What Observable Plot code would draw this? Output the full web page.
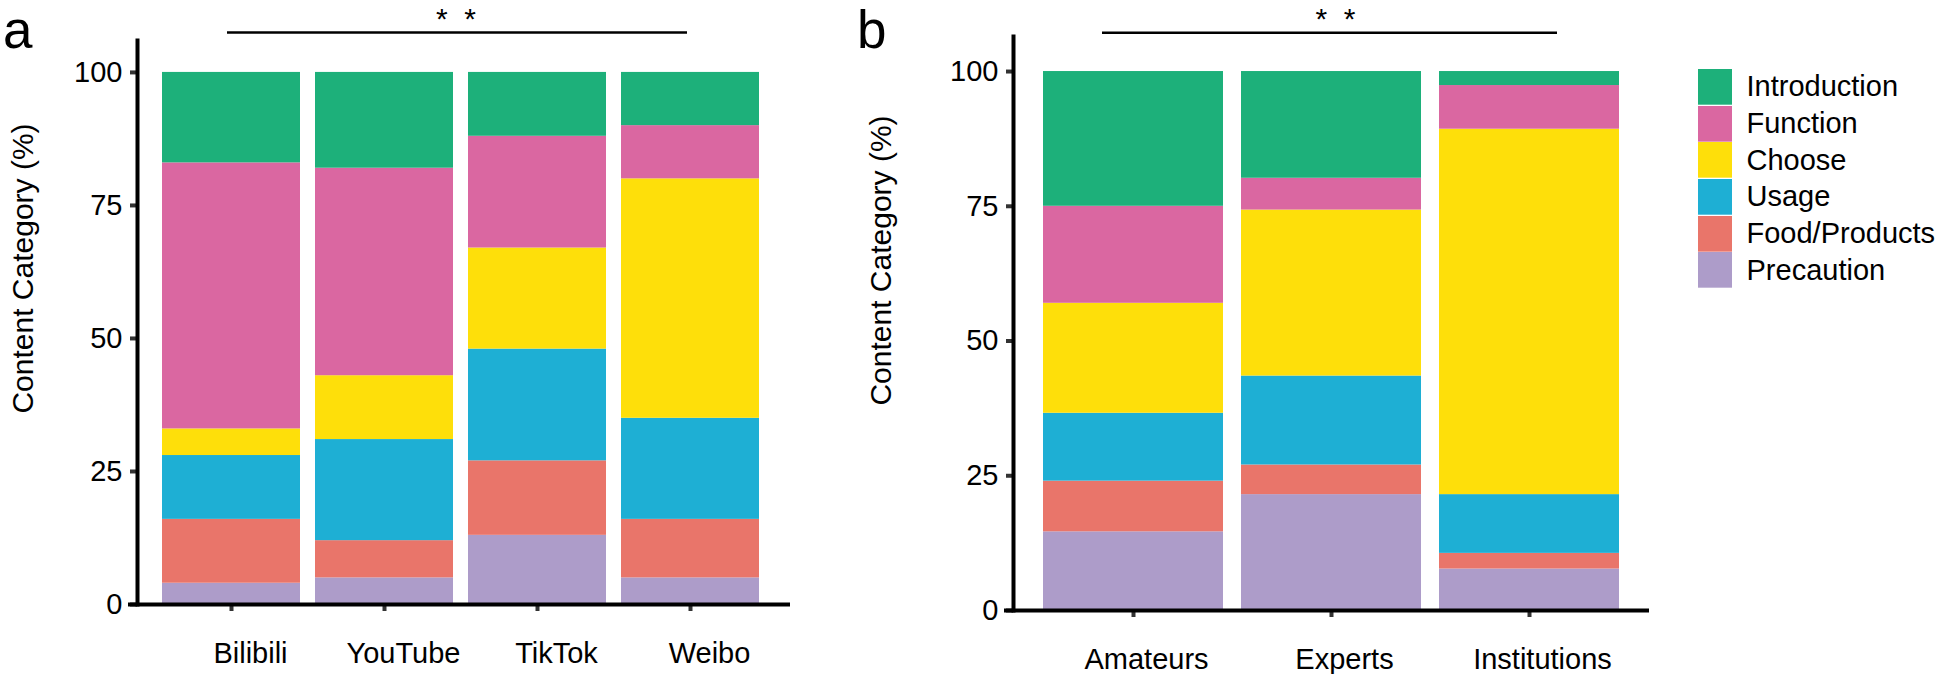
<!DOCTYPE html>
<html><head><meta charset="utf-8">
<script src="https://cdn.jsdelivr.net/npm/d3@7"></script>
<script src="https://cdn.jsdelivr.net/npm/@observablehq/plot@0.6"></script>
<style>
body{margin:0;background:#fff;}
#wrap{position:relative;width:1944px;height:674px;font-family:"Liberation Sans",Arial,sans-serif;overflow:hidden;}
.panel{position:absolute;top:0;}
.tag{position:absolute;top:3px;font-size:53px;line-height:1;color:#000;}
</style></head><body><div id="wrap">
<div id="pa" class="panel" style="left:0px"></div>
<div id="pb" class="panel" style="left:860px"></div>
<div id="legend" style="position:absolute;left:1698px;top:69px;width:246px"></div>
<div class="tag" style="left:3px">a</div>
<div class="tag" style="left:857px">b</div>
</div>
<script>
// ---- categories / labels ----
const platforms = ["Bilibili", "YouTube", "TikTok", "Weibo"];
const creators = ["Amateurs", "Experts", "Institutions"];
const contentTypes = ["Introduction", "Function", "Choose", "Usage", "Food/Products", "Precaution"];
const contentColors = ["#1DB07A", "#DA67A1", "#FEDF0A", "#1EAFD4", "#E9756A", "#AD9CC9"];
const yTicks = [0, 25, 50, 75, 100];
const yTitle = "Content Category (%)";
const signifText = "*\u00a0\u00a0*";

// ---- panel a: share (%) by platform ----
const introA      = [17, 18, 12, 10];
const functionA   = [50, 39, 21, 10];
const chooseA     = [5, 12, 19, 45];
const usageA      = [12, 19, 21, 19];
const foodA       = [12, 7, 14, 11];
const precautionA = [4, 5, 13, 5];

// ---- panel b: share (%) by creator ----
const introB      = [25, 19.8, 2.6];
const functionB   = [18, 5.9, 8.1];
const chooseB     = [20.4, 30.8, 67.8];
const usageB      = [12.6, 16.5, 10.9];
const foodB       = [9.4, 5.5, 2.9];
const precautionB = [14.6, 21.5, 7.7];

function rows(cats, series) {
  const out = [];
  cats.forEach((c, i) => series.forEach(([t, vals]) => out.push({cat: c, type: t, value: vals[i]})));
  return out;
}
// stacking order: bottom -> top
const dataA = rows(platforms, [["Precaution", precautionA], ["Food/Products", foodA], ["Usage", usageA], ["Choose", chooseA], ["Function", functionA], ["Introduction", introA]]);
const dataB = rows(creators, [["Precaution", precautionB], ["Food/Products", foodB], ["Usage", usageB], ["Choose", chooseB], ["Function", functionB], ["Introduction", introB]]);

const font = '"Liberation Sans", Arial, sans-serif';

function panel(o) {
  return Plot.plot({
    width: o.width, height: 674,
    marginLeft: o.marginLeft, marginRight: o.marginRight, marginTop: o.marginTop, marginBottom: o.marginBottom,
    style: {fontFamily: font, fontSize: "29px", background: "transparent", overflow: "visible", color: "black"},
    x: {domain: o.cats, paddingInner: o.padIn, paddingOuter: o.padOut, align: o.align, axis: null},
    y: {domain: [0, o.yMax], axis: null},
    color: {type: "ordinal", domain: contentTypes, range: contentColors},
    marks: [
      Plot.barY(o.data, {x: "cat", y: "value", fill: "type"}),
      Plot.axisY({ticks: yTicks, tickSize: 7, tickPadding: 8, strokeWidth: 4, stroke: "#333", fill: "black", fontSize: 29, label: null}),
      Plot.axisX({tickSize: 7, strokeWidth: 4, stroke: "#333", tickFormat: () => "", label: null}),
      Plot.axisX({tickSize: 0, tickPadding: 38, dx: o.labelDx, fontSize: 29, fill: "black", label: null}),
      Plot.frame({anchor: "left", strokeWidth: 4, stroke: "black"}),
      Plot.ruleY([0], {strokeWidth: 4, stroke: "black", insetLeft: -9}),
      Plot.ruleY([o.sigY], {strokeWidth: 2.5, stroke: "black", insetLeft: o.sigInsetL, insetRight: o.sigInsetR}),
      Plot.text([o.starY], {y: d => d, text: () => signifText, dx: o.starDx, fontSize: 30, fill: "black"}),
      Plot.text([yTitle], {frameAnchor: "left", textAnchor: "middle", text: d => d, rotate: -90, dx: o.titleDx, dy: o.titleDy, fontSize: 30, fill: "black"})
    ]
  });
}

document.getElementById("pa").append(panel({
  cats: platforms, data: dataA, width: 840,
  marginLeft: 137, marginRight: 50, marginTop: 40, marginBottom: 70, yMax: 106,
  padIn: 0.098, padOut: 0.173, align: 0.45, labelDx: 19,
  sigY: 107.5, starY: 110, sigInsetL: 90, sigInsetR: 103, starDx: -8,
  titleDx: -114, titleDy: -54
}));

document.getElementById("pb").append(panel({
  cats: creators, data: dataB, width: 820,
  marginLeft: 153, marginRight: 31, marginTop: 36, marginBottom: 64, yMax: 106.5,
  padIn: 0.09, padOut: 0.146, align: 0.5, labelDx: 13,
  sigY: 107.2, starY: 109.7, sigInsetL: 89, sigInsetR: 92, starDx: 4,
  titleDx: -132, titleDy: -63
}));

document.getElementById("legend").append(Plot.legend({
  legend: "swatches",
  color: {type: "ordinal", domain: contentTypes, range: contentColors},
  columns: 1, swatchWidth: 34, swatchHeight: 35.7,
  style: {fontFamily: font, fontSize: "29px", color: "black", background: "transparent"}
}));
</script>
</body></html>
